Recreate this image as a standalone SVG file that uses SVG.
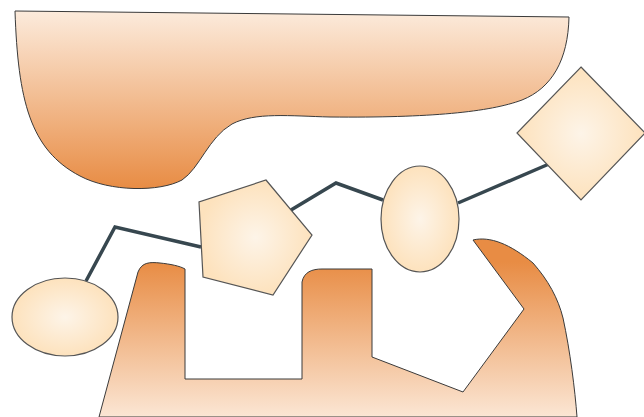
<svg xmlns="http://www.w3.org/2000/svg" width="644" height="417" viewBox="0 0 644 417">
<defs>
<linearGradient id="gTop" x1="0" y1="0" x2="0" y2="1">
<stop offset="0" stop-color="#fcebdc"/>
<stop offset="1" stop-color="#e88c44"/>
</linearGradient>
<linearGradient id="gBot" gradientUnits="userSpaceOnUse" x1="0" y1="262" x2="0" y2="417">
<stop offset="0" stop-color="#e88c44"/>
<stop offset="1" stop-color="#fbe6d4"/>
</linearGradient>
<radialGradient id="gNode">
<stop offset="0" stop-color="#fdf4e8"/>
<stop offset="1" stop-color="#fde2bd"/>
</radialGradient>
<style>
.blob{stroke:#3a3a3a;stroke-width:1}
.node{fill:url(#gNode);stroke:#555;stroke-width:1.2}
.conn{fill:none;stroke:#37474f;stroke-width:3.5;stroke-linejoin:miter}
</style>
</defs>
<g id="background">
<path class="blob" fill="url(#gTop)" d="M15,11 L569,17 C568,60 552,88 522,100 C490,112 430,118 330,117 C290,116 255,112 232,124 C208,138 200,168 182,180 C160,192 110,192 80,176 C30,150 18,100 15,11 Z"/>
<path class="blob" fill="url(#gBot)" d="M99,417 L138,272 C142,262 150,262 160,263 C170,264 180,266 185,269 L185,379 L302,379 L302,282 C304,272 312,269 322,269 L372,269 L372,357 L463,392 L524,309 L473,240 C490,236 510,244 533,263 C548,280 558,298 563,318 C570,350 575,390 577,417 Z"/>
</g>
<g id="connectors">
<polyline class="conn" points="86,281 115,227 201,247"/>
<polyline class="conn" points="291,210 336,183 383,200"/>
<polyline class="conn" points="458,203 549,164"/>
</g>
<g id="node-ellipse-left">
<ellipse class="node" cx="65" cy="317" rx="53" ry="39"/>
</g>
<g id="node-pentagon">
<polygon class="node" points="266,180 312,235 273,295 203,277 199,202"/>
</g>
<g id="node-ellipse-mid">
<ellipse class="node" cx="420" cy="219" rx="39" ry="53"/>
</g>
<g id="node-diamond">
<polygon class="node" points="581,67 645,133 581,200 517,133"/>
</g>
</svg>
